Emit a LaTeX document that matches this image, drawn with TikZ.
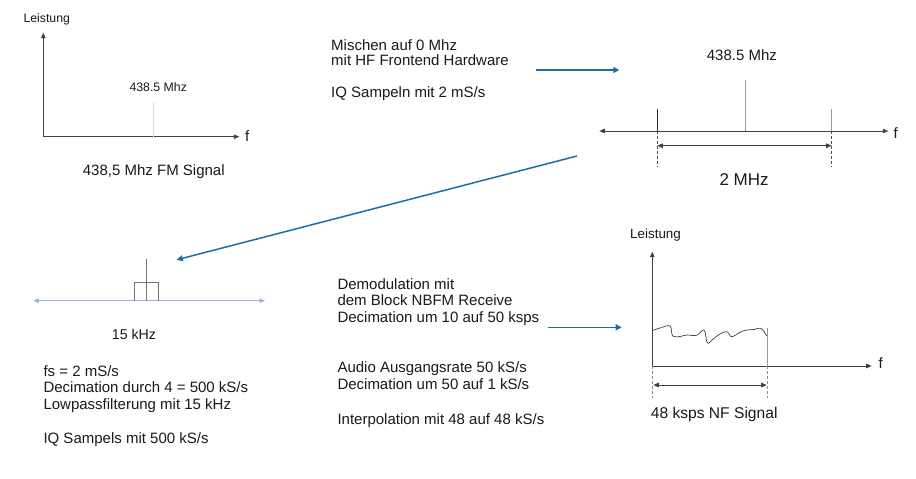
\documentclass[tikz,border=0pt]{standalone}
\usepackage{fontspec}
\setmainfont{Liberation Sans}
\usetikzlibrary{arrows.meta}
\definecolor{flowblue}{HTML}{1E6EA2}
\definecolor{axisblue}{HTML}{9DB3D4}
\definecolor{tickgrey}{HTML}{9A9A9A}
\definecolor{txt}{HTML}{1A1A1A}
\tikzset{
  lbl/.style={anchor=base west,inner sep=0pt,text=txt,font=\fontsize{15}{16.5}\selectfont},
  smalllbl/.style={anchor=base west,inner sep=0pt,text=txt,font=\fontsize{12.3}{14}\selectfont},
  axis/.style={line width=0.8pt,draw=black!75,-{Triangle[width=4.5pt,length=5.5pt]}},
  dualaxis/.style={line width=0.8pt,draw=black!75,{Triangle[width=4.5pt,length=5.5pt]}-{Triangle[width=4.5pt,length=5.5pt]}},
  tick/.style={line width=0.8pt,draw=tickgrey},
  dashline/.style={line width=0.8pt,draw=black!70,dash pattern=on 3pt off 2pt},
  flow/.style={line width=1.5pt,draw=flowblue,-{Triangle[width=6pt,length=6pt]}}
}
\begin{document}
\begin{tikzpicture}[x=1pt,y=-1pt]
\useasboundingbox (0,0) rectangle (916,479);
\fill[white] (0,0) rectangle (916,479);

% ---- Panel 1: original spectrum
\coordinate (p1o) at (43.3,136.7);
\coordinate (p1y) at (43.3,32.7);
\coordinate (p1x) at (239.3,136.7);
\draw[axis] (p1o) -- (p1y);
\draw[axis] (p1o) -- (p1x);
\coordinate (p1s) at (153.3,101.7);
\coordinate (p1sb) at (153.3,136.7);
\draw[line width=0.6pt,draw=black!15] (p1sb) -- (p1s);
\node[smalllbl] (p1lei) at (23.3,22.7) {Leistung};
\node[smalllbl] (p1freq) at (129.3,91.7) {438.5 Mhz};
\node[lbl] (p1f) at (245,141.7) {f};
\node[lbl] (p1cap) at (82.7,175) {438,5 Mhz FM Signal};

% ---- Text: mixing
\node[lbl] (m1) at (331,50) {Mischen auf 0 Mhz};
\node[lbl] (m2) at (331,65.7) {mit HF Frontend Hardware};
\node[lbl] (m3) at (331,97.7) {IQ Sampeln mit 2 mS/s};

% ---- Panel 2: baseband 2 MHz
\coordinate (p2l) at (599.3,131);
\coordinate (p2r) at (888.3,131);
\draw[dualaxis] (p2l) -- (p2r);
\node[lbl] (p2f) at (893.3,138.3) {f};
\coordinate (p2a) at (657.3,109);
\coordinate (p2ab) at (657.3,131);
\coordinate (p2ad) at (657.3,166.7);
\coordinate (p2c) at (745,80);
\coordinate (p2cb) at (745,131);
\coordinate (p2b) at (831.7,109);
\coordinate (p2bb) at (831.7,131);
\coordinate (p2bd) at (831.7,166.7);
\draw[line width=0.8pt,draw=black!85] (p2ab) -- (p2a);
\draw[tick] (p2cb) -- (p2c);
\draw[tick] (p2bb) -- (p2b);
\draw[dashline] (p2ab) -- (p2ad);
\draw[dashline] (p2bb) -- (p2bd);
\coordinate (p2ml) at (657.3,145.7);
\coordinate (p2mr) at (831.7,145.7);
\draw[dualaxis] (p2ml) -- (p2mr);
\node[lbl] (p2freq) at (706.7,60) {438.5 Mhz};
\node[lbl,font=\fontsize{17}{19}\selectfont] (p2bw) at (719.3,185.7) {2 MHz};

% ---- flow arrows
\coordinate (f1s) at (536,70);
\coordinate (f1e) at (619.3,70);
\draw[flow] (f1s) -- (f1e);
\coordinate (f2s) at (577,156);
\coordinate (f2e) at (176.7,259.8);
\draw[flow] (f2s) -- (f2e);
\coordinate (f3s) at (548.3,327.3);
\coordinate (f3e) at (621.7,327.3);
\draw[flow] (f3s) -- (f3e);

% ---- Panel 3: 15 kHz filter
\coordinate (p3l) at (33.3,300.7);
\coordinate (p3r) at (265,300.7);
\draw[line width=0.9pt,draw=axisblue,{Triangle[width=4.5pt,length=5.5pt]}-{Triangle[width=4.5pt,length=5.5pt]}] (p3l) -- (p3r);
\coordinate (p3t) at (146.7,259.3);
\coordinate (p3b) at (146.7,300.7);
\draw[line width=0.8pt,draw=black!55] (p3b) -- (p3t);
\draw[line width=0.8pt,draw=black!55] (134.3,300.7) -- (134.3,282.7) -- (158.7,282.7) -- (158.7,300.7);
\node[lbl,font=\fontsize{14.2}{16}\selectfont] (p3bw) at (111.7,339.3) {15 kHz};

\node[lbl] (l1) at (43.3,376) {fs = 2 mS/s};
\node[lbl] (l2) at (43.3,392.7) {Decimation durch 4 = 500 kS/s};
\node[lbl] (l3) at (43.3,409.3) {Lowpassfilterung mit 15 kHz};
\node[lbl] (l4) at (43.3,443.3) {IQ Sampels mit 500 kS/s};

% ---- Text: demodulation
\node[lbl] (d1) at (337.3,289) {Demodulation mit};
\node[lbl] (d2) at (337.3,305.7) {dem Block NBFM Receive};
\node[lbl] (d3) at (337.3,322.3) {Decimation um 10 auf 50 ksps};
\node[lbl] (d4) at (337.3,372.7) {Audio Ausgangsrate 50 kS/s};
\node[lbl] (d5) at (337.3,389.5) {Decimation um 50 auf 1 kS/s};
\node[lbl] (d6) at (337.3,424) {Interpolation mit 48 auf 48 kS/s};

% ---- Panel 4: NF signal
\coordinate (p4o) at (652.3,366);
\coordinate (p4y) at (652.3,251.7);
\coordinate (p4x) at (871.7,366);
\draw[axis] (p4o) -- (p4y);
\draw[axis] (p4o) -- (p4x);
\node[lbl,font=\fontsize{13.4}{15}\selectfont] (p4lei) at (630,238.3) {Leistung};
\node[lbl] (p4f) at (878.3,368.8) {f};
\coordinate (p4v) at (767.7,328.3);
\coordinate (p4vb) at (767.7,366);
\draw[tick] (p4vb) -- (p4v);
\coordinate (p4vd) at (767.7,398.3);
\coordinate (p4od) at (652.3,398.3);
\draw[dashline,draw=black!45] (p4o) -- (p4od);
\draw[dashline,draw=black!45] (p4vb) -- (p4vd);
\coordinate (p4ml) at (653.3,385);
\coordinate (p4mr) at (766.7,385);
\draw[dualaxis] (p4ml) -- (p4mr);
\draw[line width=0.6pt,draw=black!85] plot[smooth,tension=0.6] coordinates {
 (652.3,330.7) (660,328) (670,326) (672.7,336) (680,336.5) (686.7,335) (696.7,335.3)
 (704,330) (707.3,342.7) (712,340) (718.3,335) (726.7,331.7) (731.7,336.7)
 (740,332.3) (746.7,330) (754,329.5) (761,328.3) (766.7,336)};
\node[lbl,font=\fontsize{15.6}{17}\selectfont] (p4cap) at (650.7,418.3) {48 ksps NF Signal};
\end{tikzpicture}
\end{document}
